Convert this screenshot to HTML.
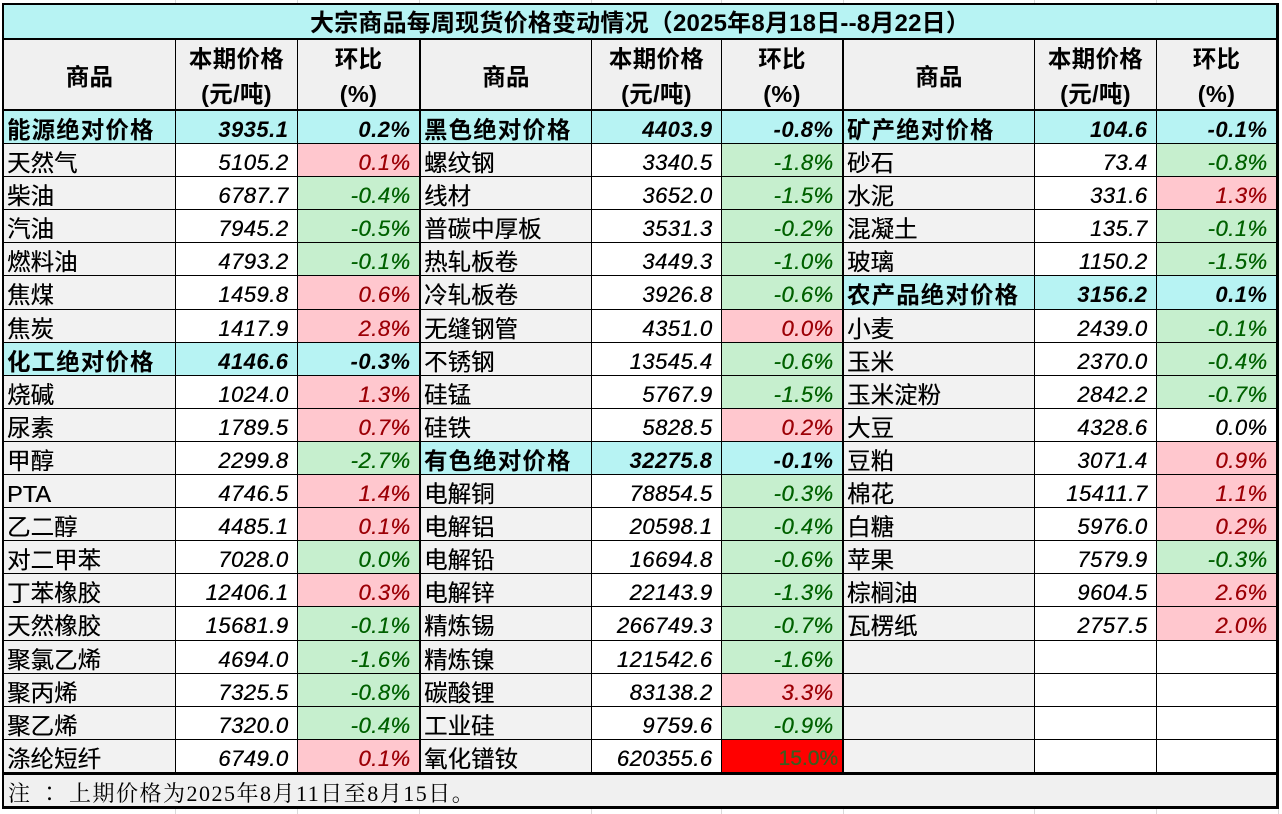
<!DOCTYPE html>
<html><head><meta charset="utf-8">
<style>
html,body{margin:0;padding:0}
body{width:1282px;height:814px;background:#fff;position:relative;overflow:hidden;font-family:"Liberation Sans","Noto Sans CJK SC",sans-serif;color:#000}
#t{position:absolute;left:2px;top:3px;border-style:solid;border-color:#000;border-width:2px 3px 3px 2px;background:#000;display:grid;grid-template-columns:171px 121px 122px 170px 129px 121px 190px 121px 119px;grid-template-rows:34px 70px repeat(20,32.1px) 33px;gap:1px}
#t>div{box-sizing:border-box;overflow:hidden;white-space:nowrap}
.ti{grid-column:1/-1;background:#b7f3f3;border-bottom:1px solid #000;text-align:center;font-weight:bold;font-size:24px;line-height:33px;padding-top:2px;letter-spacing:0.2px}
.h{background:#f0f0f0;border-bottom:1px solid #000;text-align:center;font-weight:bold;font-size:23.5px;letter-spacing:0.3px;line-height:35px;padding-top:2px}
.h1{line-height:66px;padding-top:4px}
.n{background:#f2f2f2;padding-left:3px;font-size:23.5px;letter-spacing:0;line-height:30px;padding-top:4px;text-shadow:0.3px 0 0 currentColor}
.p,.c{background:#fff;text-align:right;font-style:italic;font-size:22px;letter-spacing:0.5px;padding-right:8.5px;line-height:30px;padding-top:4px;text-shadow:0.35px 0 0 currentColor}
.k{background:#ffc7ce!important;color:#9c0006}
.g{background:#c6efce!important;color:#006100}
.s{background:#b7f3f3!important;font-weight:bold;color:#000;text-shadow:none}
.n.s{letter-spacing:1.1px}
.t{border-right:1px solid #000}
.r{background:#ff0000!important;color:#3d5c1f;font-style:normal!important;letter-spacing:0!important;padding-right:4px!important;font-size:21px!important}
.no{grid-column:1/-1;background:#f0f0f0;border-top:2px solid #000;font-family:"Liberation Serif","Noto Serif CJK SC",serif;font-size:22px;letter-spacing:1.5px;line-height:30px;padding-top:3px;padding-left:4px}
.co{font-family:"Noto Serif CJK TC","Noto Sans CJK TC",serif}
.gl{position:absolute;background:#d9d9d9;width:1px}
</style></head><body>
<div class="gl" style="left:175px;top:0;height:3px"></div>
<div class="gl" style="left:297px;top:0;height:3px"></div>
<div class="gl" style="left:419px;top:0;height:3px"></div>
<div class="gl" style="left:591px;top:0;height:3px"></div>
<div class="gl" style="left:721px;top:0;height:3px"></div>
<div class="gl" style="left:843px;top:0;height:3px"></div>
<div class="gl" style="left:1034px;top:0;height:3px"></div>
<div class="gl" style="left:1156px;top:0;height:3px"></div>
<div class="gl" style="left:175px;top:809px;height:5px"></div>
<div class="gl" style="left:297px;top:809px;height:5px"></div>
<div class="gl" style="left:419px;top:809px;height:5px"></div>
<div class="gl" style="left:591px;top:809px;height:5px"></div>
<div class="gl" style="left:721px;top:809px;height:5px"></div>
<div class="gl" style="left:843px;top:809px;height:5px"></div>
<div class="gl" style="left:1034px;top:809px;height:5px"></div>
<div class="gl" style="left:1156px;top:809px;height:5px"></div>
<div class="gl" style="left:1278px;top:809px;height:5px"></div>
<div id="t">
<div class="ti">大宗商品每周现货价格变动情况（2025年8月18日--8月22日）</div>

<div class="h h1">商品</div><div class="h">本期价格<br>(元/吨)</div><div class="h t">环比<br>(%)</div>
<div class="h h1">商品</div><div class="h">本期价格<br>(元/吨)</div><div class="h t">环比<br>(%)</div>
<div class="h h1">商品</div><div class="h">本期价格<br>(元/吨)</div><div class="h">环比<br>(%)</div>

<div class="n s">能源绝对价格</div><div class="p s">3935.1</div><div class="c s t">0.2%</div>
<div class="n s">黑色绝对价格</div><div class="p s">4403.9</div><div class="c s t">-0.8%</div>
<div class="n s">矿产绝对价格</div><div class="p s">104.6</div><div class="c s">-0.1%</div>

<div class="n">天然气</div><div class="p">5105.2</div><div class="c k t">0.1%</div>
<div class="n">螺纹钢</div><div class="p">3340.5</div><div class="c g t">-1.8%</div>
<div class="n">砂石</div><div class="p">73.4</div><div class="c g">-0.8%</div>

<div class="n">柴油</div><div class="p">6787.7</div><div class="c g t">-0.4%</div>
<div class="n">线材</div><div class="p">3652.0</div><div class="c g t">-1.5%</div>
<div class="n">水泥</div><div class="p">331.6</div><div class="c k">1.3%</div>

<div class="n">汽油</div><div class="p">7945.2</div><div class="c g t">-0.5%</div>
<div class="n">普碳中厚板</div><div class="p">3531.3</div><div class="c g t">-0.2%</div>
<div class="n">混凝土</div><div class="p">135.7</div><div class="c g">-0.1%</div>

<div class="n">燃料油</div><div class="p">4793.2</div><div class="c g t">-0.1%</div>
<div class="n">热轧板卷</div><div class="p">3449.3</div><div class="c g t">-1.0%</div>
<div class="n">玻璃</div><div class="p">1150.2</div><div class="c g">-1.5%</div>

<div class="n">焦煤</div><div class="p">1459.8</div><div class="c k t">0.6%</div>
<div class="n">冷轧板卷</div><div class="p">3926.8</div><div class="c g t">-0.6%</div>
<div class="n s">农产品绝对价格</div><div class="p s">3156.2</div><div class="c s">0.1%</div>

<div class="n">焦炭</div><div class="p">1417.9</div><div class="c k t">2.8%</div>
<div class="n">无缝钢管</div><div class="p">4351.0</div><div class="c k t">0.0%</div>
<div class="n">小麦</div><div class="p">2439.0</div><div class="c g">-0.1%</div>

<div class="n s">化工绝对价格</div><div class="p s">4146.6</div><div class="c s t">-0.3%</div>
<div class="n">不锈钢</div><div class="p">13545.4</div><div class="c g t">-0.6%</div>
<div class="n">玉米</div><div class="p">2370.0</div><div class="c g">-0.4%</div>

<div class="n">烧碱</div><div class="p">1024.0</div><div class="c k t">1.3%</div>
<div class="n">硅锰</div><div class="p">5767.9</div><div class="c g t">-1.5%</div>
<div class="n">玉米淀粉</div><div class="p">2842.2</div><div class="c g">-0.7%</div>

<div class="n">尿素</div><div class="p">1789.5</div><div class="c k t">0.7%</div>
<div class="n">硅铁</div><div class="p">5828.5</div><div class="c k t">0.2%</div>
<div class="n">大豆</div><div class="p">4328.6</div><div class="c">0.0%</div>

<div class="n">甲醇</div><div class="p">2299.8</div><div class="c g t">-2.7%</div>
<div class="n s">有色绝对价格</div><div class="p s">32275.8</div><div class="c s t">-0.1%</div>
<div class="n">豆粕</div><div class="p">3071.4</div><div class="c k">0.9%</div>

<div class="n">PTA</div><div class="p">4746.5</div><div class="c k t">1.4%</div>
<div class="n">电解铜</div><div class="p">78854.5</div><div class="c g t">-0.3%</div>
<div class="n">棉花</div><div class="p">15411.7</div><div class="c k">1.1%</div>

<div class="n">乙二醇</div><div class="p">4485.1</div><div class="c k t">0.1%</div>
<div class="n">电解铝</div><div class="p">20598.1</div><div class="c g t">-0.4%</div>
<div class="n">白糖</div><div class="p">5976.0</div><div class="c k">0.2%</div>

<div class="n">对二甲苯</div><div class="p">7028.0</div><div class="c g t">0.0%</div>
<div class="n">电解铅</div><div class="p">16694.8</div><div class="c g t">-0.6%</div>
<div class="n">苹果</div><div class="p">7579.9</div><div class="c g">-0.3%</div>

<div class="n">丁苯橡胶</div><div class="p">12406.1</div><div class="c k t">0.3%</div>
<div class="n">电解锌</div><div class="p">22143.9</div><div class="c g t">-1.3%</div>
<div class="n">棕榈油</div><div class="p">9604.5</div><div class="c k">2.6%</div>

<div class="n">天然橡胶</div><div class="p">15681.9</div><div class="c g t">-0.1%</div>
<div class="n">精炼锡</div><div class="p">266749.3</div><div class="c g t">-0.7%</div>
<div class="n">瓦楞纸</div><div class="p">2757.5</div><div class="c k">2.0%</div>

<div class="n">聚氯乙烯</div><div class="p">4694.0</div><div class="c g t">-1.6%</div>
<div class="n">精炼镍</div><div class="p">121542.6</div><div class="c g t">-1.6%</div>
<div class="n"></div><div class="p"></div><div class="c"></div>

<div class="n">聚丙烯</div><div class="p">7325.5</div><div class="c g t">-0.8%</div>
<div class="n">碳酸锂</div><div class="p">83138.2</div><div class="c k t">3.3%</div>
<div class="n"></div><div class="p"></div><div class="c"></div>

<div class="n">聚乙烯</div><div class="p">7320.0</div><div class="c g t">-0.4%</div>
<div class="n">工业硅</div><div class="p">9759.6</div><div class="c g t">-0.9%</div>
<div class="n"></div><div class="p"></div><div class="c"></div>

<div class="n">涤纶短纤</div><div class="p">6749.0</div><div class="c k t">0.1%</div>
<div class="n">氧化镨钕</div><div class="p">620355.6</div><div class="c r t">15.0%</div>
<div class="n"></div><div class="p"></div><div class="c"></div>

<div class="no">注 <span class="co">：</span> 上期价格为2025年8月11日至8月15日。</div>
</div>
</body></html>
